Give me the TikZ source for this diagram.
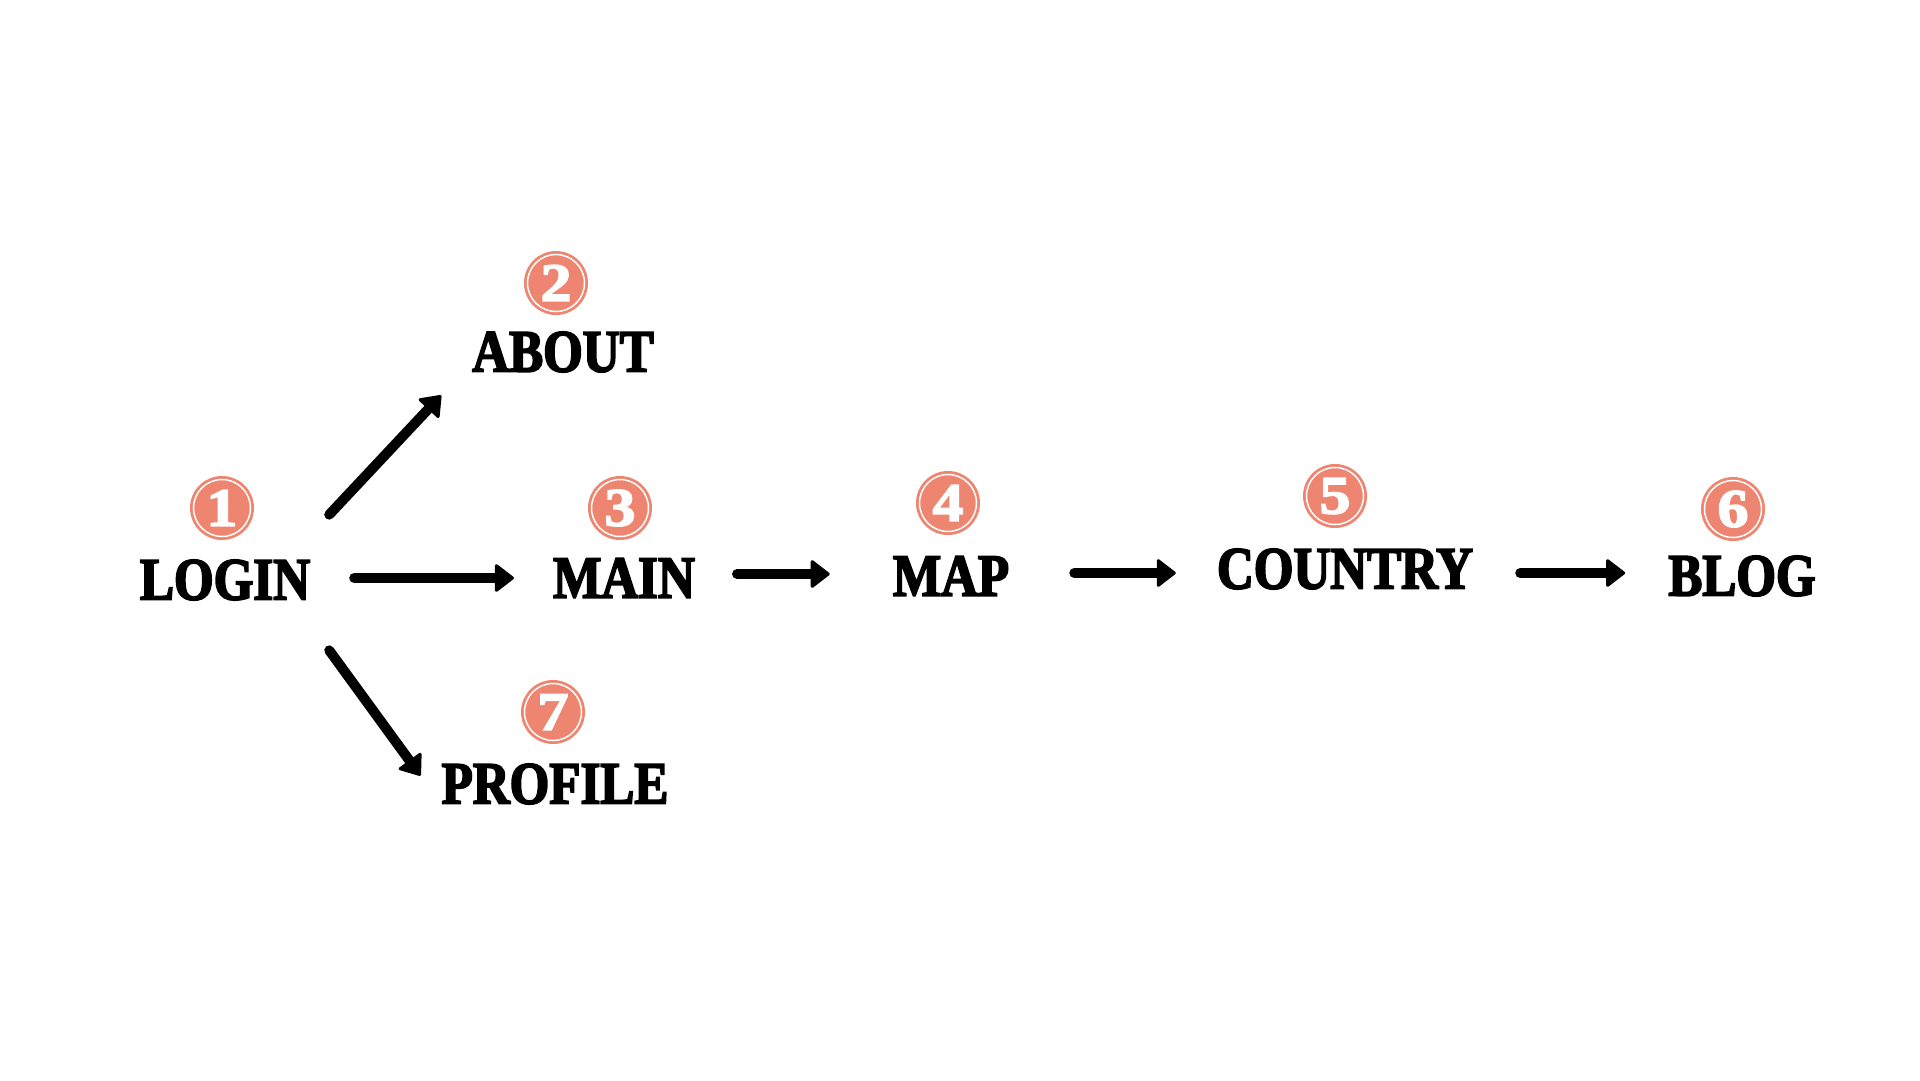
\documentclass[tikz,border=0pt]{standalone}
\usepackage{fontspec}
\newfontfamily\labelfont{Liberation Serif}[FakeStretch=0.85, BoldFeatures={FakeBold=3}]
\newfontfamily\badgefont{Liberation Serif}[FakeStretch=1.15, BoldFeatures={FakeBold=3}]
\usetikzlibrary{arrows.meta}
\definecolor{salmon}{RGB}{238,133,112}

\begin{document}
\begin{tikzpicture}[x=1pt, y=-1pt,
    page/.style={inner sep=0pt, font=\labelfont\bfseries\fontsize{60}{60}\selectfont},
    badge/.style={circle, fill=salmon, minimum size=64pt, inner sep=0pt, text=white,
        font=\badgefont\bfseries\fontsize{54}{54}\selectfont,
        path picture={\draw[white, line width=1.5pt] (path picture bounding box.center) circle (28.5pt);}},
    link/.style={line width=10pt, line cap=round, -{Triangle[length=20pt, width=30pt, line width=3pt, round]}}]

        \useasboundingbox[fill=white] (0, 0) rectangle (1920, 1080);

        % pages
        \node[page] (login) at (225, 580) {LOGIN};
        \node[page] (about) at (563, 352) {ABOUT};
        \node[page] (main) at (624, 578) {MAIN};
        \node[page] (map) at (951, 576) {MAP};
        \node[page] (country) at (1345, 569) {COUNTRY};
        \node[page] (blog) at (1742, 576) {BLOG};
        \node[page] (profile) at (555, 784) {PROFILE};

        % numbers
        \node[badge] (b1) at (222, 508) {1};
        \node[badge] (b2) at (556, 283) {2};
        \node[badge] (b3) at (620, 508) {3};
        \node[badge] (b4) at (948, 503) {4};
        \node[badge] (b5) at (1335, 496) {5};
        \node[badge] (b6) at (1733, 509) {6};
        \node[badge] (b7) at (553, 712) {7};

        % arrows
        \draw[link] ([xshift=19pt, yshift=45pt]login.north east) -- ([xshift=-31pt, yshift=-23pt]about.south west);
        \draw[link] ([xshift=19pt, yshift=-50pt]login.south east) -- ([xshift=-21pt, yshift=-12pt]profile.north west);
        \draw[link, shorten <=44pt, shorten >=39pt] ([yshift=2pt]login.east) -- ([yshift=2pt]login.east -| main.west);
        \draw[link, shorten <=42pt, shorten >=63pt] ([yshift=4pt]main.east) -- ([yshift=4pt]main.east -| map.west);
        \draw[link, shorten <=65pt, shorten >=41pt] ([yshift=3pt]map.east) -- ([yshift=3pt]map.east -| country.west);
        \draw[link, shorten <=47pt, shorten >=43pt] ([yshift=-4pt]country.east) -- ([yshift=-4pt]country.east -| blog.west);
    \end{tikzpicture}
\end{document}
